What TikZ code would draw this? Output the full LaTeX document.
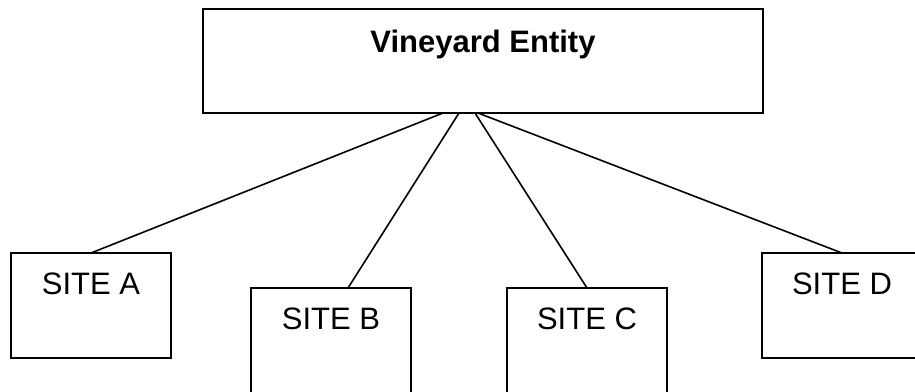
\documentclass[tikz,border=0pt]{standalone}
\usepackage{fontspec}
\setmainfont{Liberation Sans}
\begin{document}
\begin{tikzpicture}[x=1pt,y=-1pt,
  box/.style={draw,line width=1.6pt,rectangle,inner sep=0pt,outer sep=0pt,anchor=north west},
  topbox/.style={box,line width=1.9pt,minimum width=560pt,minimum height=104pt},
  sitebox/.style={box,minimum width=160pt,minimum height=105pt},
  tallbox/.style={box,minimum width=160pt,minimum height=130pt},
  lbl/.style={font=\fontsize{31}{37}\selectfont,inner sep=0pt,anchor=base},
  toplbl/.style={lbl,font=\fontsize{31}{37}\selectfont\bfseries},
  conn/.style={line width=1.6pt}]
\useasboundingbox (0,0) rectangle (915,391);
\begin{scope}
\clip (0,0) rectangle (915,391);
\fill[white] (0,0) rectangle (915,391);
\node[topbox] (top) at (203,9) {};
\node[toplbl] (toptext) at (483,52) {Vineyard Entity};
\node[sitebox] (a) at (11,253) {};
\node[tallbox] (b) at (251,288) {};
\node[tallbox] (c) at (507,288) {};
\node[sitebox] (d) at (762,253) {};
\node[lbl] (at) at (91,294) {SITE A};
\node[lbl] (bt) at (331,329) {SITE B};
\node[lbl] (ct) at (587,329) {SITE C};
\node[lbl] (dt) at (842,294) {SITE D};
\coordinate (tA) at (443,113);
\coordinate (tB) at (459,113);
\coordinate (tC) at (475,113);
\coordinate (tD) at (478,113);
\coordinate (bA) at (a.north);
\coordinate (bB) at ([xshift=17pt]b.north);
\coordinate (bC) at (c.north);
\coordinate (bD) at (d.north);
\draw[conn] (tA) -- (bA);
\draw[conn] (tB) -- (bB);
\draw[conn] (tC) -- (bC);
\draw[conn] (tD) -- (bD);
\end{scope}
\end{tikzpicture}
\end{document}
